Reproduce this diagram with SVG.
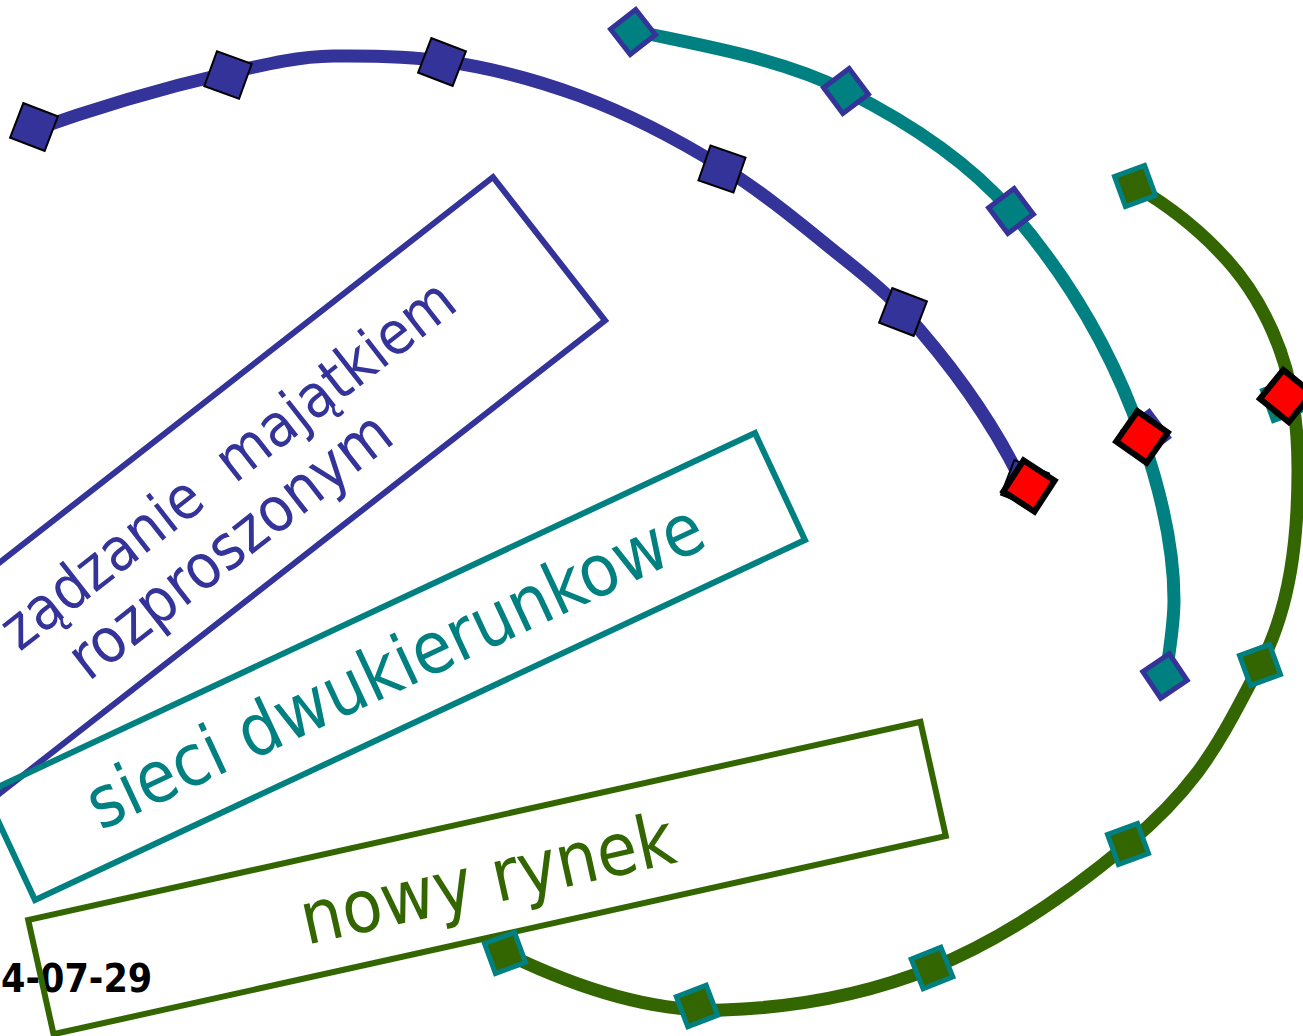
<svg xmlns="http://www.w3.org/2000/svg" width="1303" height="1036" viewBox="0 0 1303 1036">
  <defs>
    <style>
      .box{fill:none;stroke-width:6}
      .lbl{font-family:"DejaVu Sans Condensed","DejaVu Sans",sans-serif;font-stretch:condensed;text-anchor:middle}
      .arc{fill:none;stroke-width:13;stroke-linecap:butt}
      .bsq{fill:#333399;stroke:#000;stroke-width:2}
      .tsq{fill:#008080;stroke:#333399;stroke-width:5}
      .gsq{fill:#336600;stroke:#008080;stroke-width:5}
      .rsq{fill:#ff0000;stroke:#000;stroke-width:6}
    </style>
    <rect id="sq37" x="-18.5" y="-18.5" width="37" height="37"/>
    <rect id="sq32" x="-16" y="-16" width="32" height="32"/>
  </defs>
  <rect width="1303" height="1036" fill="#fff"/>

  <!-- date stamp, bottom left -->
  <g id="date">
    <text x="1" y="992" font-family="'DejaVu Sans Condensed','DejaVu Sans',sans-serif" font-stretch="condensed" font-weight="bold" font-size="39" fill="#000">4-07-29</text>
  </g>

  <!-- labelled boxes -->
  <g id="node-majatek" transform="translate(207,516) rotate(-38)">
    <rect class="box" x="-434" y="-91" width="868" height="182" stroke="#333399"/>
    <text class="lbl" fill="#333399">
      <tspan x="332" y="-8" font-size="59.8" text-anchor="end" xml:space="preserve">ządzanie  majątkiem</tspan>
      <tspan x="0" y="58" font-size="62">rozproszonym</tspan>
    </text>
  </g>

  <g id="node-sieci" transform="translate(395,666.5) rotate(-25.06)">
    <rect class="box" x="-425" y="-59" width="850" height="118" stroke="#008080"/>
    <text class="lbl" x="0" y="24" font-size="72" fill="#008080">sieci dwukierunkowe</text>
  </g>

  <g id="node-rynek" transform="translate(487,878) rotate(-12.52)">
    <rect class="box" x="-457" y="-58.5" width="914" height="117" stroke="#336600"/>
    <text class="lbl" x="0" y="26" font-size="73" fill="#336600">nowy rynek</text>
  </g>

  <!-- curved tracks -->
  <g id="connectors">
    <path class="arc" stroke="#333399" stroke-width="14" d="M25,133 C91.4,109.1 159.2,88.8 228,73 C262.6,65 297.5,56.4 333,56 C369.7,55.6 406.7,55.9 443,61 C489.6,67.5 535.8,79.7 580,96 C629.6,114.4 677,139.1 722,167 C761.3,191.3 797.1,220.9 833,250 C857.1,269.5 882.1,288.1 903,311 C948.7,361.3 989.6,417.2 1020,478"/>
    <path class="arc" stroke="#008080" d="M630,30 C703.1,46 779.1,57.6 846,91 C906.8,121.4 966.4,159.7 1011,211 C1068.1,276.8 1113.6,354.6 1142,437 C1160.1,489.4 1174,544.6 1174,600 C1174,625.5 1169.1,650.7 1166,676"/>
    <path class="arc" stroke="#336600" d="M1135,186 C1169,205.7 1200.7,230.8 1227,260 C1250.3,285.9 1268.1,317.3 1280,350 C1293.8,388 1298,429.6 1298,470 C1298,536 1291,606.7 1260,665 C1240.4,701.8 1222.1,739.7 1197,773 C1177.1,799.4 1153.3,822.8 1128,844 C1068.8,893.7 1003.7,939 932,968 C866.1,994.7 794,1007.5 723,1010 C648,1012.6 572.5,985.9 505,953"/>
  </g>

  <!-- stops on the blue track -->
  <g id="stops-blue">
    <use href="#sq37" class="bsq" transform="translate(34,127) rotate(21)"/>
    <use href="#sq37" class="bsq" transform="translate(228,75) rotate(20)"/>
    <use href="#sq37" class="bsq" transform="translate(442,62) rotate(21)"/>
    <use href="#sq37" class="bsq" transform="translate(722,169) rotate(19)"/>
    <use href="#sq37" class="bsq" transform="translate(903,312) rotate(21)"/>
    <use href="#sq37" class="bsq" transform="translate(1025,484) rotate(21)"/>
  </g>

  <!-- stops on the teal track -->
  <g id="stops-teal">
    <use href="#sq32" class="tsq" transform="translate(633,32) rotate(-38)"/>
    <use href="#sq32" class="tsq" transform="translate(846,91) rotate(-37)"/>
    <use href="#sq32" class="tsq" transform="translate(1011,211) rotate(-37)"/>
    <use href="#sq32" class="tsq" transform="translate(1165,676) rotate(-34)"/>
    <use href="#sq32" class="tsq" transform="translate(1146,434) rotate(-37)"/>
  </g>

  <!-- stops on the green track -->
  <g id="stops-green">
    <use href="#sq32" class="gsq" transform="translate(1135,186) rotate(-20)"/>
    <use href="#sq32" class="gsq" transform="translate(1260,665) rotate(-20)"/>
    <use href="#sq32" class="gsq" transform="translate(1128,844) rotate(-20)"/>
    <use href="#sq32" class="gsq" transform="translate(932,968) rotate(-22)"/>
    <use href="#sq32" class="gsq" transform="translate(697,1006) rotate(-21)"/>
    <use href="#sq32" class="gsq" transform="translate(505,953) rotate(-20)"/>
    <use href="#sq32" class="gsq" transform="translate(1283,400) rotate(-20)"/>
  </g>

  <!-- highlighted stops -->
  <g id="stops-red">
    <use href="#sq37" class="rsq" transform="translate(1029,486) rotate(33)"/>
    <use href="#sq37" class="rsq" transform="translate(1142,437) rotate(35)"/>
    <use href="#sq37" class="rsq" transform="translate(1286,396) rotate(39)"/>
  </g>
</svg>
